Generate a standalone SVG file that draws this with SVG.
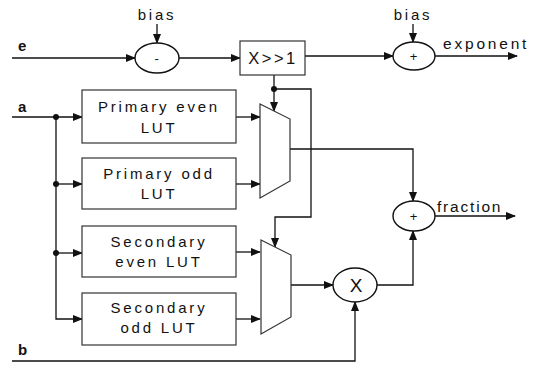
<svg xmlns="http://www.w3.org/2000/svg" width="536" height="365" viewBox="0 0 536 365">
<defs>
<marker id="ah" markerUnits="userSpaceOnUse" markerWidth="10" markerHeight="8" refX="9" refY="4" orient="auto"><path d="M0,0 L10,4 L0,8 z" fill="#111"/></marker>
<style>
.ln{fill:none;stroke:#111;stroke-width:1.3}
.bx{fill:#fff;stroke:#333;stroke-width:1.2}
.op{fill:#fff;stroke:#111;stroke-width:1.4}
.t{font-family:"Liberation Sans",Arial,sans-serif;font-size:15px;fill:#111;letter-spacing:2.8px}
.io{font-weight:bold;letter-spacing:0}
.c{text-anchor:middle}
.dot{fill:#111}
</style>
</defs>
<rect width="536" height="365" fill="#fff"/>
<g id="connectors">
<path class="ln" d="M12,58 H135" marker-end="url(#ah)"/>
<path class="ln" d="M157,24 V43" marker-end="url(#ah)"/>
<path class="ln" d="M179,58 H240" marker-end="url(#ah)"/>
<path class="ln" d="M305,56 H393" marker-end="url(#ah)"/>
<path class="ln" d="M413,24 V42" marker-end="url(#ah)"/>
<path class="ln" d="M435,56 H517" marker-end="url(#ah)"/>
<path class="ln" d="M274,75 V111" marker-end="url(#ah)"/>
<path class="ln" d="M274,89 H311 V217 H275 V247" marker-end="url(#ah)"/>
<path class="ln" d="M12,117 H82" marker-end="url(#ah)"/>
<path class="ln" d="M56,117 V319 H82" marker-end="url(#ah)"/>
<path class="ln" d="M56,184 H82" marker-end="url(#ah)"/>
<path class="ln" d="M56,253 H82" marker-end="url(#ah)"/>
<path class="ln" d="M236,117 H260" marker-end="url(#ah)"/>
<path class="ln" d="M236,184 H260" marker-end="url(#ah)"/>
<path class="ln" d="M236,252 H260" marker-end="url(#ah)"/>
<path class="ln" d="M236,319 H260" marker-end="url(#ah)"/>
<path class="ln" d="M290,149 H413 V201" marker-end="url(#ah)"/>
<path class="ln" d="M291,285 H333" marker-end="url(#ah)"/>
<path class="ln" d="M377,285 H413 V231" marker-end="url(#ah)"/>
<path class="ln" d="M435,216 H515" marker-end="url(#ah)"/>
<path class="ln" d="M12,361 H355 V302" marker-end="url(#ah)"/>
<circle class="dot" cx="274" cy="89" r="3"/>
<circle class="dot" cx="56" cy="117" r="3"/>
<circle class="dot" cx="56" cy="184" r="3"/>
<circle class="dot" cx="56" cy="253" r="3"/>
</g>
<g id="labels">
<text class="t io" x="18" y="51">e</text>
<text class="t io" x="18" y="112">a</text>
<text class="t io" x="18" y="355">b</text>
<text class="t c" x="157" y="20">bias</text>
<text class="t c" x="413" y="20">bias</text>
<text class="t" x="443" y="49" style="font-size:15.5px">exponent</text>
<text class="t" x="437" y="212" style="letter-spacing:1.8px;font-size:15.5px">fraction</text>
</g>
<g id="sub">
<ellipse class="op" cx="157" cy="58" rx="22" ry="15"/>
<text class="t c" x="158" y="63" style="font-size:13px">-</text>
</g>
<g id="shift">
<rect class="bx" x="240" y="41" width="65" height="34" stroke="#111" stroke-width="1.4"/>
<text class="t c" x="273" y="64" style="letter-spacing:2.5px;font-size:16.5px">X&gt;&gt;1</text>
</g>
<g id="addexp">
<ellipse class="op" cx="414" cy="56" rx="21" ry="14"/>
<text class="t c" x="415" y="61" style="font-size:13px">+</text>
</g>
<g id="lut-pe">
<rect class="bx" x="82" y="90" width="154" height="53"/>
<text class="t c" x="159" y="112">Primary even</text>
<text class="t c" x="159" y="133">LUT</text>
</g>
<g id="lut-po">
<rect class="bx" x="82" y="158" width="154" height="51"/>
<text class="t c" x="159" y="179">Primary odd</text>
<text class="t c" x="159" y="199">LUT</text>
</g>
<g id="lut-se">
<rect class="bx" x="82" y="226" width="154" height="51"/>
<text class="t c" x="159" y="247">Secondary</text>
<text class="t c" x="159" y="267">even LUT</text>
</g>
<g id="lut-so">
<rect class="bx" x="82" y="293" width="154" height="52"/>
<text class="t c" x="159" y="313">Secondary</text>
<text class="t c" x="159" y="333">odd LUT</text>
</g>
<g id="mux1">
<polygon class="bx" points="260,104 290,119 290,181 260,198"/>
</g>
<g id="mux2">
<polygon class="bx" points="261,240 291,255 291,317 261,334"/>
</g>
<g id="mul">
<ellipse class="op" cx="355" cy="285" rx="22" ry="17"/>
<text class="t c" x="356" y="292" style="font-size:19px;letter-spacing:0">X</text>
</g>
<g id="addfrac">
<ellipse class="op" cx="414" cy="216" rx="21" ry="15"/>
<text class="t c" x="415" y="221" style="font-size:13px">+</text>
</g>
</svg>
